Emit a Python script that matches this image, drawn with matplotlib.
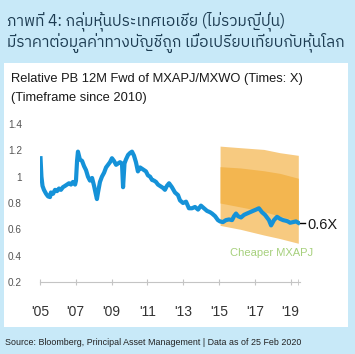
import matplotlib
matplotlib.use("Agg")
import matplotlib.pyplot as plt
from matplotlib import font_manager as fm
from matplotlib.ft2font import FT2Font
from matplotlib.patches import Rectangle

# relative PB 12M fwd MXAPJ / MXWO (x in years)
years = [2005.03, 2005.08, 2005.14, 2005.22, 2005.34, 2005.45, 2005.56, 2005.61,
         2005.73, 2005.84, 2005.95, 2006.06, 2006.17, 2006.28, 2006.4, 2006.51,
         2006.62, 2006.73, 2006.84, 2006.96, 2007.01, 2007.07, 2007.12, 2007.23,
         2007.35, 2007.46, 2007.57, 2007.68, 2007.79, 2007.91, 2008.02, 2008.13,
         2008.18, 2008.24, 2008.35, 2008.46, 2008.58, 2008.69, 2008.8, 2008.91,
         2009.02, 2009.13, 2009.25, 2009.36, 2009.47, 2009.58, 2009.64, 2009.72,
         2009.8, 2009.92, 2010.03, 2010.14, 2010.25, 2010.36, 2010.47, 2010.59,
         2010.7, 2010.81, 2010.92, 2011.03, 2011.15, 2011.26, 2011.37, 2011.48,
         2011.59, 2011.7, 2011.87, 2011.98, 2012.09, 2012.21, 2012.37, 2012.54,
         2012.71, 2012.82, 2012.99, 2013.16, 2013.32, 2013.49, 2013.66, 2013.83,
         2013.99, 2014.16, 2014.33, 2014.5, 2014.61, 2014.78, 2014.94, 2015.06,
         2015.22, 2015.39, 2015.56, 2015.73, 2015.84, 2015.95, 2016.06, 2016.23,
         2016.4, 2016.56, 2016.73, 2016.9, 2017.07, 2017.23, 2017.4, 2017.57,
         2017.68, 2017.79, 2017.91, 2018.07, 2018.24, 2018.41, 2018.58, 2018.74,
         2018.85, 2018.97, 2019.14, 2019.3, 2019.43]
rel_pb = [1.14, 1.00, 0.93, 0.90, 0.87, 0.85, 0.845, 0.88,
          0.87, 0.90, 0.89, 0.91, 0.90, 0.92, 0.93, 0.94,
          0.95, 0.94, 0.96, 0.94, 0.97, 1.12, 1.19, 1.13,
          1.12, 1.08, 1.05, 1.00, 0.97, 0.99, 0.93, 0.86,
          0.83, 0.88, 0.96, 1.00, 1.03, 1.07, 1.09, 1.11,
          1.14, 1.12, 1.09, 1.10, 1.11, 1.10, 0.92, 1.10,
          1.13, 1.165, 1.18, 1.19, 1.16, 1.11, 1.04, 1.07,
          1.06, 1.05, 1.04, 1.01, 1.00, 0.975, 0.97, 0.96,
          0.94, 0.93, 0.915, 0.90, 0.93, 0.95, 0.92, 0.88,
          0.86, 0.82, 0.80, 0.81, 0.76, 0.76, 0.77, 0.75,
          0.78, 0.76, 0.74, 0.73, 0.72, 0.70, 0.67, 0.66,
          0.655, 0.67, 0.675, 0.67, 0.70, 0.72, 0.70, 0.69,
          0.71, 0.72, 0.73, 0.74, 0.75, 0.76, 0.73, 0.71,
          0.69, 0.67, 0.63, 0.67, 0.695, 0.68, 0.67, 0.665,
          0.66, 0.65, 0.655, 0.66, 0.65]

# shaded "cheaper" range
band_x = [2015.06, 2016.2, 2017.5, 2018.4, 2019.43]
band_top = [1.232, 1.220, 1.207, 1.182, 1.162]
dark_top = [1.076, 1.066, 1.045, 1.025, 0.988]
dark_bot = [0.80, 0.77, 0.735, 0.70, 0.66]
band_bot = [0.63, 0.60, 0.557, 0.53, 0.494]

tick_years = [2005, 2007, 2009, 2011, 2013, 2015, 2017, 2019]
tick_labels = ["'05", "'07", "'09", "'11", "'13", "'15", "'17", "'19"]
y_ticks = [0.2, 0.4, 0.6, 0.8, 1, 1.2, 1.4]
y_labels = ["0.2", "0.4", "0.6", "0.8", "1", "1.2", "1.4"]

title1 = "ภาพที่ 4: กลุ่มหุ้นประเทศเอเชีย (ไม่รวมญี่ปุ่น)"
title2 = "มีราคาต่อมูลค่าทางบัญชีถูก เมื่อเปรียบเทียบกับหุ้นโลก"
subtitle1 = "Relative PB 12M Fwd of MXAPJ/MXWO (Times: X)"
subtitle2 = "(Timeframe since 2010)"
source = "Source: Bloomberg, Principal Asset Management | Data as of 25 Feb 2020"


def thai_font():
    # prefer a loopless "... Thai" face, else any font with Thai glyphs
    found = []
    for f in fm.fontManager.ttflist:
        try:
            if FT2Font(f.fname).get_char_index(0x0E01):
                found.append(f.name)
        except Exception:
            pass
    for n in found:
        if "Thai" in n and "Looped" not in n:
            return n
    return found[0] if found else "DejaVu Sans"


plt.rcParams["font.family"] = ["Liberation Sans", "DejaVu Sans"]
thai = [thai_font(), "DejaVu Sans"]

W, H = 355, 354
fig = plt.figure(figsize=(W / 100, H / 100), dpi=100, facecolor="#c8e9f8")
fig.patches.append(Rectangle((4 / W, 1 - 327 / H), 344 / W, 264 / H,
                             transform=fig.transFigure, facecolor="white",
                             edgecolor="none", zorder=-1))

fig.text(7 / W, 1 - 25 / H, title1, family=thai, fontsize=11.2, color="#1d3c52")
fig.text(7 / W, 1 - 47 / H, title2, family=thai, fontsize=11.2, color="#1d3c52")
fig.text(11 / W, 1 - 82 / H, subtitle1, fontsize=9.3, color="#1a1a1a")
fig.text(11 / W, 1 - 101 / H, subtitle2, fontsize=9.3, color="#1a1a1a")
fig.text(5 / W, 1 - 345 / H, source, fontsize=6.4, color="#222222")

ax = fig.add_axes([40 / W, 72 / H, 260 / W, 158 / H])
ax.set_facecolor("none")
ax.set_xlim(2005, 2005 + 260 / 17.9)
ax.set_ylim(0.2, 1.4)

ax.fill_between(band_x, band_bot, band_top, color="#f7ca80", lw=0, zorder=1)
ax.fill_between(band_x, dark_bot, dark_top, color="#f3b650", lw=0, zorder=2)
ax.plot(years, rel_pb, color="#1592d8", lw=3, solid_joinstyle="round", zorder=3)

ax.plot([2019.43, 2019.82], [0.65, 0.65], color="black", lw=1, clip_on=False)
ax.text(2019.93, 0.635, "0.6X", fontsize=10.5, color="#1a1a1a", va="center")
ax.text(2017.96, 0.42, "Cheaper MXAPJ", fontsize=8,
        color="#a6d07c", ha="center", va="center")

for s in ["top", "left", "right"]:
    ax.spines[s].set_visible(False)
ax.spines["bottom"].set_color("#c4c4c4")
ax.set_xticks(tick_years)
ax.set_xticklabels(tick_labels)
ax.set_xticks([2019.43], minor=True)
ax.tick_params(axis="x", which="both", direction="inout", length=5,
               color="#c4c4c4", labelsize=10, labelcolor="#333333", pad=14)
ax.set_yticks(y_ticks)
ax.set_yticklabels(y_labels)
ax.tick_params(axis="y", length=0, labelsize=7.2, labelcolor="#555555", pad=13)

fig.savefig("out.png", dpi=100, facecolor=fig.get_facecolor())
